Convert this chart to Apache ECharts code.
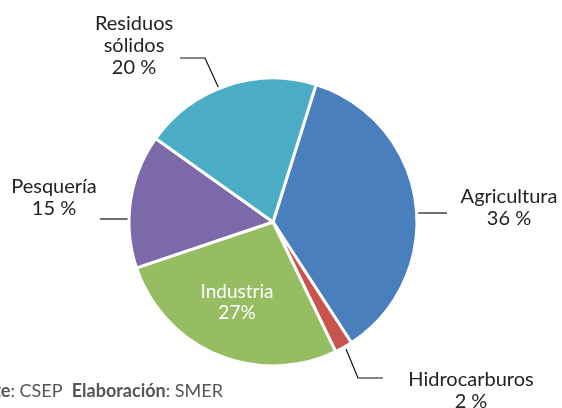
<!DOCTYPE html>
<html>
<head>
<meta charset="utf-8">
<script src="https://cdn.jsdelivr.net/npm/echarts@6/dist/echarts.min.js"></script>
<style>
  html, body { margin: 0; padding: 0; background: #fff; }
  #main { width: 562px; height: 408px; }
</style>
</head>
<body>
<div id="main"></div>
<script>
// datos del gráfico
var categories = ['Agricultura', 'Hidrocarburos', 'Industria', 'Pesquería', 'Residuos\nsólidos'];
var values = [36, 2, 27, 15, 20];
var colors = ['#4a7fbe', '#c9534d', '#97bd63', '#7b69a9', '#4aadc5'];

// posicion de cada etiqueta y su linea guia
var labelPos = [
  { x: 509, y: 208, line: [[416, 213], [431, 213], [447, 213]] },
  { x: 471, y: 391, line: [[346, 349], [358, 378], [383, 378]] },
  { x: 237, y: 302, line: null },
  { x: 54, y: 198, line: [[131, 219], [115, 219], [100, 219]] },
  { x: 134, y: 46, line: [[220, 91], [205, 58], [180, 58]] }
];

var chart = echarts.init(document.getElementById('main'));

var option = {
  animation: false,
  textStyle: { fontFamily: 'Lato' },
  graphic: [
    {
      type: 'text',
      x: 223,
      y: 391,
      style: {
        text: '{b|Fuente}: CSEP  {b|Elaboración}: SMER',
        align: 'right',
        verticalAlign: 'middle',
        fontFamily: 'Lato',
        fontSize: 18,
        fill: '#555',
        rich: {
          b: { fontWeight: 'bold', fontSize: 18, fontFamily: 'Lato', color: '#555' }
        }
      }
    }
  ],
  series: [
    {
      type: 'pie',
      center: [273, 222],
      radius: 144,
      startAngle: 72.6,
      clockwise: true,
      itemStyle: { borderColor: '#fff', borderWidth: 3 },
      label: {
        show: true,
        position: 'outside',
        color: '#222',
        fontSize: 20,
        lineHeight: 22,
        align: 'center',
        overflow: 'none',
        formatter: function (p) {
          if (p.dataIndex === 2) return p.name + '\n' + p.value + '%';
          return p.name + '\n' + p.value + ' %';
        }
      },
      labelLine: {
        show: true,
        lineStyle: { color: '#111', width: 1.2 }
      },
      labelLayout: function (params) {
        var lp = labelPos[params.dataIndex];
        var res = { x: lp.x, y: lp.y, align: 'center', verticalAlign: 'middle' };
        if (lp.line) res.labelLinePoints = lp.line;
        return res;
      },
      data: categories.map(function (c, i) {
        var d = { name: c, value: values[i], itemStyle: { color: colors[i] } };
        if (i === 2) {
          d.label = { position: 'inside', color: '#fff', fontSize: 19, lineHeight: 21 };
          d.labelLine = { show: false };
        }
        return d;
      })
    }
  ]
};

chart.setOption(option);
</script>
</body>
</html>
